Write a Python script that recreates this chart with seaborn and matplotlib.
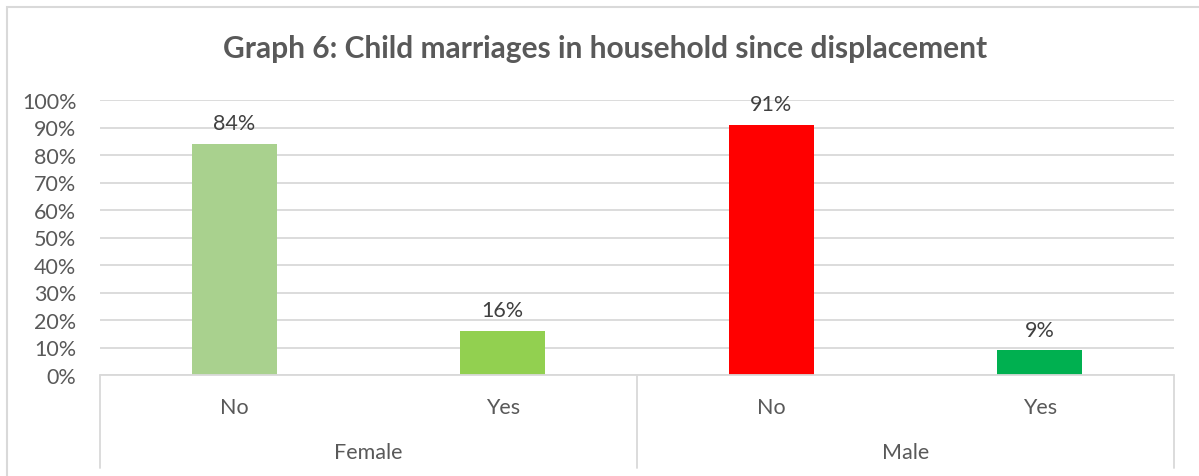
import matplotlib
matplotlib.use("Agg")
import matplotlib.pyplot as plt
import matplotlib.transforms as mtransforms
from matplotlib.patches import Rectangle
import seaborn as sns
import pandas as pd

# Chart data
groups = ["Female", "Female", "Male", "Male"]
answers = ["No", "Yes", "No", "Yes"]
shares = [84, 16, 91, 9]
bar_colors = ["#A9D18E", "#92D050", "#FF0000", "#00B050"]
y_ticks = [0, 10, 20, 30, 40, 50, 60, 70, 80, 90, 100]
title = "Graph 6: Child marriages in household since displacement"

sns.set_theme(style="white")
plt.rcParams["font.family"] = ["Lato", "DejaVu Sans"]

W, H, DPI = 1199, 477, 100
fig = plt.figure(figsize=(W / DPI, H / DPI), dpi=DPI)
fig.patch.set_facecolor("white")

LBL = 15.5

# Plot region in pixel terms
left, right, top, bottom = 100, 1174, 101, 376
ax = fig.add_axes([left / W, 1 - bottom / H, (right - left) / W, (bottom - top) / H])

df = pd.DataFrame({
    "key": [f"{g}-{a}" for g, a in zip(groups, answers)],
    "share": shares,
})
sns.barplot(data=df, x="key", y="share", hue="key", palette=bar_colors,
            width=0.317, legend=False, ax=ax, saturation=1, edgecolor="none")

ax.set_xlim(-0.5, len(shares) - 0.5)
ax.set_ylim(0, 100)
ax.set_yticks(y_ticks)
ax.set_yticklabels([f"{t}%" for t in y_ticks], fontsize=LBL, color="#595959")
ax.tick_params(axis="y", length=0, pad=17)
ax.set_xticks([])
ax.set_xlabel("")
ax.set_ylabel("")
ax.yaxis.grid(True, color="#D9D9D9", linewidth=1.3)
ax.set_axisbelow(True)
for s in ax.spines.values():
    s.set_visible(False)

# Value labels
for i, v in enumerate(shares):
    ax.text(i, v + 7.5, f"{v}%", ha="center", va="center",
            fontsize=LBL, color="#404040")

# Two-level category axis
trans = mtransforms.blended_transform_factory(ax.transData, ax.transAxes)
axis_col = "#D9D9D9"
ax.plot([-0.5, len(shares) - 0.5], [0, 0], color=axis_col, lw=1.3,
        transform=trans, clip_on=False)
bottom_ext = -(469 - bottom) / (bottom - top)
for xsep in [-0.5, 1.5, 3.5]:
    ax.plot([xsep, xsep], [0, bottom_ext], color=axis_col, lw=1.3,
            transform=trans, clip_on=False)
lvl1_y = -(408 - bottom) / (bottom - top)
lvl2_y = -(453 - bottom) / (bottom - top)
for i, a in enumerate(answers):
    ax.text(i, lvl1_y, a, ha="center", va="center", fontsize=LBL,
            color="#595959", transform=trans)
seen = []
for g in groups:
    if g not in seen:
        seen.append(g)
for g in seen:
    idx = [i for i, gg in enumerate(groups) if gg == g]
    ax.text(sum(idx) / len(idx), lvl2_y, g, ha="center", va="center",
            fontsize=LBL, color="#595959", transform=trans)

# Title
fig.text(605 / W, 1 - 49 / H, title, ha="center", va="center",
         fontsize=21.5, fontweight="bold", color="#595959")

# Chart frame
fig.patches.append(Rectangle((7 / W, -0.1), 1.2, 1 - 8 / H + 0.1,
                             transform=fig.transFigure, fill=False,
                             edgecolor="#D9D9D9", linewidth=1.5))

fig.savefig("out.png", dpi=DPI)
